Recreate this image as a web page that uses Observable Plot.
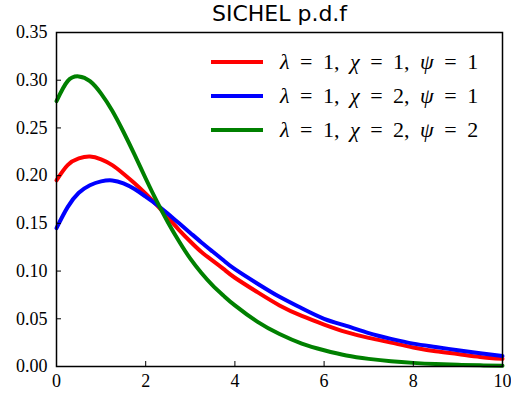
<!DOCTYPE html>
<html>
<head>
<meta charset="utf-8">
<script src="https://cdn.jsdelivr.net/npm/d3@7"></script>
<script src="https://cdn.jsdelivr.net/npm/@observablehq/plot@0.6"></script>
<style>
  html, body { margin: 0; padding: 0; background: #fff; }
  #wrap { position: relative; width: 511px; height: 396px; overflow: hidden; }
  #legend { position: absolute; left: 211px; top: 45px; font-family: "Liberation Serif", serif; font-size: 22px; word-spacing: 5px; color: #000; white-space: nowrap; }
  .row { display: flex; align-items: center; height: 34px; }
  .sw { width: 52px; height: 4px; margin-right: 17px; flex: none; }
  .row i { font-style: italic; }
  svg text { font-family: "Liberation Serif", serif; }
  svg .ttl text { font-family: "DejaVu Sans", sans-serif; }
</style>
</head>
<body>
<div id="wrap"></div>
<script>
const xs = [0, 0.25, 0.5, 0.75, 1, 1.25, 1.5, 1.75, 2, 2.25, 2.5, 2.75, 3, 3.25, 3.5, 3.75, 4, 4.5, 5, 5.5, 6, 6.5, 7, 7.5, 8, 8.5, 9, 9.5, 10];
const red =   [0.195, 0.211, 0.218, 0.220, 0.217, 0.211, 0.202, 0.192, 0.181, 0.169, 0.156, 0.143, 0.131, 0.120, 0.111, 0.102, 0.093, 0.078, 0.064, 0.053, 0.044, 0.036, 0.030, 0.025, 0.020, 0.016, 0.013, 0.010, 0.008];
const blue =  [0.145, 0.167, 0.182, 0.190, 0.194, 0.195, 0.192, 0.186, 0.178, 0.1695, 0.160, 0.150, 0.140, 0.130, 0.1205, 0.111, 0.102, 0.087, 0.073, 0.061, 0.050, 0.0425, 0.035, 0.029, 0.024, 0.0205, 0.017, 0.0138, 0.011];
const green = [0.278, 0.299, 0.304, 0.299, 0.286, 0.268, 0.246, 0.222, 0.197, 0.173, 0.151, 0.131, 0.113, 0.098, 0.085, 0.074, 0.064, 0.047, 0.034, 0.024, 0.017, 0.0115, 0.008, 0.0055, 0.0038, 0.0026, 0.0018, 0.0012, 0.0008];
const seriesNames = ["λ = 1, χ = 1, ψ = 1", "λ = 1, χ = 2, ψ = 1", "λ = 1, χ = 2, ψ = 2"];
const seriesColors = ["#ff0000", "#0000ff", "#008000"];
const xTicks = [0, 2, 4, 6, 8, 10];
const yTicks = [0, 0.05, 0.10, 0.15, 0.20, 0.25, 0.30, 0.35];
const title = "SICHEL p.d.f";

const seriesValues = [red, blue, green];
const rows = [];
seriesValues.forEach((vals, s) => vals.forEach((v, i) => rows.push({x: xs[i], y: v, s})));

const chart = Plot.plot({
  width: 511,
  height: 396,
  marginTop: 32,
  marginLeft: 56,
  marginRight: 9,
  marginBottom: 30,
  style: {background: "#fff", overflow: "visible", fontFamily: "Liberation Serif", fontSize: "18px", color: "#000"},
  x: {domain: [0, 10]},
  y: {domain: [0, 0.35]},
  marks: [
    ...seriesValues.map((vals, s) => Plot.line(rows.filter(r => r.s === s), {x: "x", y: "y", stroke: seriesColors[s], strokeWidth: 4, curve: "natural"})),
    Plot.frame({stroke: "#000", strokeWidth: 1.5}),
    Plot.axisX(xTicks, {tickSize: -5, tickPadding: 13, tickFormat: d => String(d), fontSize: 18, strokeWidth: 1, label: null}),
    Plot.axisY(yTicks, {tickSize: -5, tickPadding: 14, tickFormat: d3.format(".2f"), fontSize: 18, strokeWidth: 1, label: null}),
    Plot.text([title], {frameAnchor: "top", dy: -27, text: d => d, fontSize: 22, fill: "#000", className: "ttl"})
  ]
});
const wrap = document.getElementById("wrap");
wrap.appendChild(chart);

const legend = document.createElement("div");
legend.id = "legend";
seriesNames.forEach((name, i) => {
  const row = document.createElement("div");
  row.className = "row";
  const sw = document.createElement("div");
  sw.className = "sw";
  sw.style.background = seriesColors[i];
  const label = document.createElement("span");
  label.innerHTML = name.replace(/([λχψ])/g, "<i>$1</i>");
  row.appendChild(sw);
  row.appendChild(label);
  legend.appendChild(row);
});
wrap.appendChild(legend);
</script>
</body>
</html>
